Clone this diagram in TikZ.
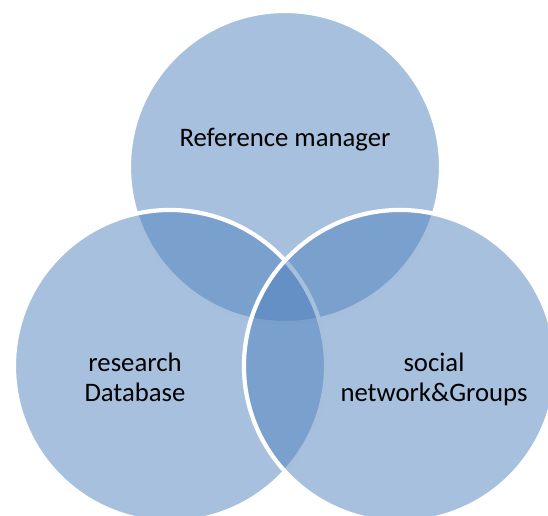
\documentclass[tikz,border=0pt]{standalone}
\usepackage{fontspec}
\setmainfont{Carlito}
\usetikzlibrary{positioning}
\definecolor{setblue}{HTML}{4F81BD}
\definecolor{labeltext}{HTML}{000000}

\begin{document}
\begin{tikzpicture}[x=0.025cm,y=-0.025cm,
    vennset/.style={circle,fill=setblue,fill opacity=0.5,draw=white,line width=3pt,minimum size=7.8cm,inner sep=0pt},
    vennlabel/.style={text=labeltext,font=\fontsize{19}{21.5}\selectfont,align=center,inner sep=0pt}]
    \useasboundingbox (0,0) rectangle (548,515);
    \clip (0,0) rectangle (548,515);

    % Reference manager
    \node[vennset] (refset) at (285,167) {};
    \node[vennlabel] (reflabel) at (285,140) {Reference manager};

    % research Database
    \node[vennset] (dbset) at (170,366) {};
    \node[vennlabel] (dblabel) at (135,377) {research\\Database};

    % social network
    \node[vennset] (socialset) at (400,366) {};
    \node[vennlabel] (sociallabel) at (434,379) {social\\network\&Groups};
  \end{tikzpicture}
\end{document}
